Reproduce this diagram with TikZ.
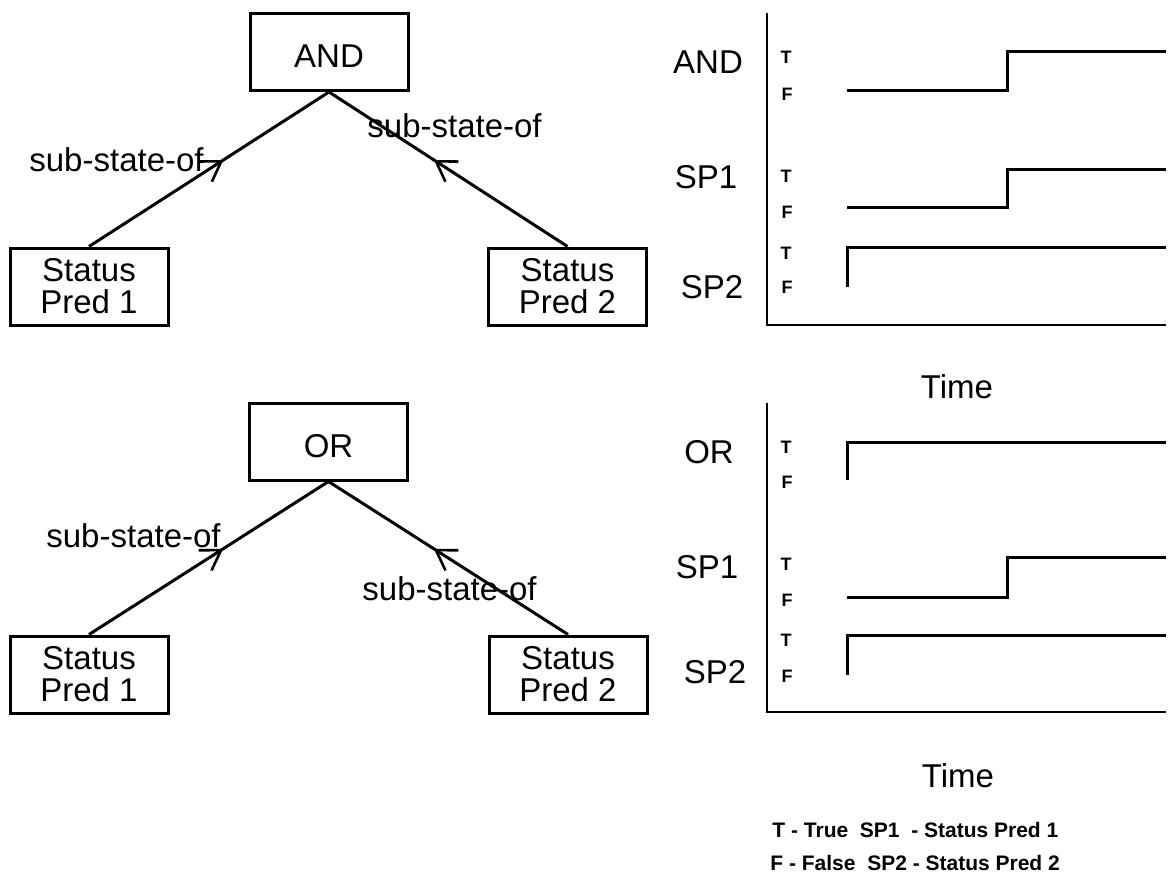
\documentclass[tikz,border=0pt]{standalone}
\usepackage{fontspec}
\setmainfont{Liberation Sans}
\usetikzlibrary{positioning,arrows.meta,decorations.markings}
\tikzset{
    caja/.style={draw,line width=1.5pt,minimum width=79pt,minimum height=38.5pt,inner sep=0pt,align=center,font=\fontsize{16.5}{16}\selectfont},
    rotulo/.style={font=\fontsize{16.5}{20}\selectfont,inner sep=0pt},
    subflecha/.style={draw,line width=1.5pt,postaction={decorate},
        decoration={markings,mark=at position 0.56 with {\arrow{Straight Barb[length=9.5pt,width=12pt,line width=1.3pt]}}}},
    eje/.style={draw,line width=1.3pt},
    senal/.style={draw,line width=1.5pt},
    tf/.style={font=\bfseries\fontsize{9}{10}\selectfont,inner sep=0pt},
    leyenda/.style={font=\bfseries\fontsize{10.5}{13}\selectfont,inner sep=0pt,anchor=base west},
}
\begin{document}
\begin{tikzpicture}[x=0.5pt,y=-0.5pt]
\useasboundingbox (0,0) rectangle (1176,877);

% arbol AND
\node[caja,text height=16pt] (and) at (329,52) {AND};
\node[caja] (and1) at (89,286.5) {Status\\Pred 1};
\node[caja] (and2) at (567.5,286.5) {Status\\Pred 2};
\path[subflecha] (and1.north) -- (and.south);
\path[subflecha] (and2.north) -- (and.south);
\node[rotulo,anchor=base west] (lblAnd1) at (29,172) {sub-state-of};
\node[rotulo,anchor=base west] (lblAnd2) at (367,138) {sub-state-of};

% arbol OR
\node[caja,text height=16pt] (or) at (328.5,441.5) {OR};
\node[caja] (or1) at (89,674.5) {Status\\Pred 1};
\node[caja] (or2) at (568,674.5) {Status\\Pred 2};
\path[subflecha] (or1.north) -- (or.south);
\path[subflecha] (or2.north) -- (or.south);
\node[rotulo,anchor=base west] (lblOr1) at (46,547) {sub-state-of};
\node[rotulo,anchor=base west] (lblOr2) at (362,600) {sub-state-of};

% cronograma AND
\draw[eje] (767,13) -- (767,325) -- (1166,325);
\node[rotulo] (tAnd) at (708,62) {AND};
\node[rotulo] (tSp1) at (706,177) {SP1};
\node[rotulo] (tSp2) at (712,287) {SP2};
\node[tf] at (786,57) {T};   \node[tf] at (787,94) {F};
\node[tf] at (786,176) {T};  \node[tf] at (787,212) {F};
\node[tf] at (786,253) {T};  \node[tf] at (787,287) {F};
\draw[senal] (847,91) -- (1007,91) -- (1007,52) -- (1166,52);
\draw[senal] (847,208) -- (1007,208) -- (1007,170) -- (1166,170);
\draw[senal] (847,287) -- (847,247) -- (1166,247);
\node[rotulo,anchor=base] (time1) at (957,398) {Time};

% cronograma OR
\draw[eje] (767,403) -- (767,712) -- (1166,712);
\node[rotulo] (tOr) at (709,452) {OR};
\node[rotulo] (tSp1b) at (707,567) {SP1};
\node[rotulo] (tSp2b) at (715,672) {SP2};
\node[tf] at (786,447) {T};  \node[tf] at (787,482) {F};
\node[tf] at (786,564) {T};  \node[tf] at (787,600) {F};
\node[tf] at (786,640) {T};  \node[tf] at (787,676) {F};
\draw[senal] (847,480) -- (847,442) -- (1166,442);
\draw[senal] (847,597) -- (1007,597) -- (1007,557) -- (1166,557);
\draw[senal] (847,675) -- (847,635) -- (1166,635);
\node[rotulo,anchor=base] (time2) at (958,787) {Time};

% leyenda
\node[leyenda] (ley1) at (772,837) {T - True\ \ SP1\ \ - Status Pred 1};
\node[leyenda] (ley2) at (770,870) {F - False\ \ SP2 - Status Pred 2};
\end{tikzpicture}
\end{document}
